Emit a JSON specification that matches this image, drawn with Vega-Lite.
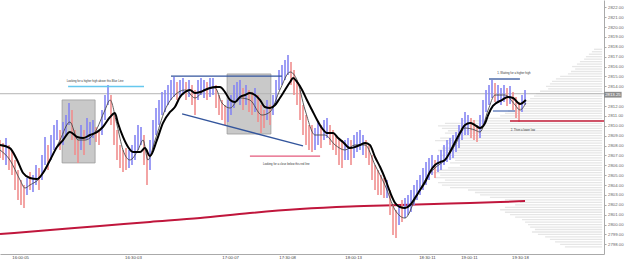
{
"$schema":"https://vega.github.io/schema/vega-lite/v6.json",
"width":604,"height":254,
"autosize":{"type":"none"},
"padding":{"left":0,"top":0,"right":21,"bottom":8},
"background":"#ffffff",
"config":{"view":{"stroke":null},"font":"Liberation Sans","axis":{"labelOverlap":false,"labelSeparation":0}},
"datasets":{
"bars":[
{"t":0,"h":2808.56,"l":2806.74,"c":"d"},{"t":1,"h":2808.26,"l":2806.54,"c":"d"},{"t":2,"h":2808.76,"l":2806.03,"c":"u"},{"t":3,"h":2808.06,"l":2805.52,"c":"d"},{"t":4,"h":2807.55,"l":2805.02,"c":"d"},{"t":5,"h":2806.54,"l":2803.50,"c":"d"},{"t":6,"h":2805.52,"l":2802.49,"c":"d"},{"t":7,"h":2804.51,"l":2801.98,"c":"d"},{"t":8,"h":2804.01,"l":2801.68,"c":"d"},{"t":9,"h":2804.71,"l":2802.99,"c":"u"},
{"t":10,"h":2805.32,"l":2803.50,"c":"d"},{"t":11,"h":2805.02,"l":2803.30,"c":"u"},{"t":12,"h":2806.03,"l":2804.01,"c":"u"},{"t":13,"h":2805.73,"l":2803.50,"c":"d"},{"t":14,"h":2807.04,"l":2804.51,"c":"u"},{"t":15,"h":2808.87,"l":2806.03,"c":"u"},{"t":16,"h":2808.06,"l":2805.52,"c":"d"},{"t":17,"h":2809.07,"l":2806.54,"c":"u"},{"t":18,"h":2810.08,"l":2807.55,"c":"u"},{"t":19,"h":2810.59,"l":2808.56,"c":"u"},
{"t":20,"h":2809.57,"l":2807.55,"c":"d"},{"t":21,"h":2810.39,"l":2808.06,"c":"u"},{"t":22,"h":2811.09,"l":2809.07,"c":"u"},{"t":23,"h":2812.31,"l":2810.08,"c":"u"},{"t":24,"h":2811.60,"l":2808.56,"c":"d"},{"t":25,"h":2809.57,"l":2807.04,"c":"d"},{"t":26,"h":2808.56,"l":2806.23,"c":"d"},{"t":27,"h":2810.08,"l":2807.55,"c":"u"},{"t":28,"h":2809.57,"l":2807.04,"c":"d"},{"t":29,"h":2810.79,"l":2808.56,"c":"u"},
{"t":30,"h":2810.39,"l":2808.06,"c":"u"},{"t":31,"h":2810.59,"l":2808.76,"c":"u"},{"t":32,"h":2809.88,"l":2808.36,"c":"d"},{"t":33,"h":2809.57,"l":2808.06,"c":"d"},{"t":34,"h":2811.60,"l":2809.07,"c":"u"},{"t":35,"h":2813.12,"l":2810.59,"c":"u"},{"t":36,"h":2814.13,"l":2812.11,"c":"u"},{"t":37,"h":2813.12,"l":2810.08,"c":"d"},{"t":38,"h":2811.09,"l":2808.06,"c":"d"},{"t":39,"h":2809.57,"l":2806.54,"c":"d"},
{"t":40,"h":2808.06,"l":2805.73,"c":"d"},{"t":41,"h":2807.55,"l":2805.32,"c":"d"},{"t":42,"h":2807.75,"l":2805.52,"c":"d"},{"t":43,"h":2807.55,"l":2805.73,"c":"u"},{"t":44,"h":2808.06,"l":2806.03,"c":"u"},{"t":45,"h":2809.07,"l":2806.54,"c":"u"},{"t":46,"h":2810.08,"l":2807.55,"c":"u"},{"t":47,"h":2809.88,"l":2808.06,"c":"u"},{"t":48,"h":2809.07,"l":2806.03,"c":"d"},{"t":49,"h":2807.55,"l":2804.01,"c":"d"},
{"t":50,"h":2808.56,"l":2805.52,"c":"u"},{"t":51,"h":2810.59,"l":2807.55,"c":"u"},{"t":52,"h":2811.80,"l":2809.07,"c":"u"},{"t":53,"h":2812.61,"l":2810.08,"c":"u"},{"t":54,"h":2813.42,"l":2811.09,"c":"u"},{"t":55,"h":2813.63,"l":2811.40,"c":"u"},{"t":56,"h":2814.13,"l":2812.11,"c":"u"},{"t":57,"h":2814.64,"l":2812.61,"c":"u"},{"t":58,"h":2814.94,"l":2812.92,"c":"u"},{"t":59,"h":2814.44,"l":2812.61,"c":"d"},
{"t":60,"h":2814.64,"l":2812.82,"c":"u"},{"t":61,"h":2814.84,"l":2813.12,"c":"u"},{"t":62,"h":2814.44,"l":2812.61,"c":"d"},{"t":63,"h":2814.64,"l":2812.92,"c":"u"},{"t":64,"h":2814.13,"l":2812.11,"c":"d"},{"t":65,"h":2813.63,"l":2811.09,"c":"d"},{"t":66,"h":2814.64,"l":2812.61,"c":"u"},{"t":67,"h":2814.84,"l":2813.12,"c":"u"},{"t":68,"h":2814.64,"l":2812.82,"c":"u"},{"t":69,"h":2814.44,"l":2812.61,"c":"d"},
{"t":70,"h":2814.84,"l":2812.92,"c":"u"},{"t":71,"h":2814.84,"l":2813.12,"c":"u"},{"t":72,"h":2814.13,"l":2811.80,"c":"d"},{"t":73,"h":2813.12,"l":2811.09,"c":"d"},{"t":74,"h":2812.61,"l":2810.59,"c":"d"},{"t":75,"h":2812.11,"l":2810.08,"c":"d"},{"t":76,"h":2812.61,"l":2810.39,"c":"u"},{"t":77,"h":2813.12,"l":2811.09,"c":"u"},{"t":78,"h":2814.13,"l":2811.80,"c":"u"},{"t":79,"h":2814.44,"l":2812.41,"c":"u"},
{"t":80,"h":2814.64,"l":2812.11,"c":"u"},{"t":81,"h":2813.83,"l":2811.60,"c":"d"},{"t":82,"h":2814.13,"l":2812.11,"c":"u"},{"t":83,"h":2813.63,"l":2811.40,"c":"d"},{"t":84,"h":2813.42,"l":2811.09,"c":"d"},{"t":85,"h":2813.83,"l":2811.40,"c":"u"},{"t":86,"h":2813.12,"l":2810.39,"c":"d"},{"t":87,"h":2812.11,"l":2809.27,"c":"d"},{"t":88,"h":2811.60,"l":2809.78,"c":"d"},{"t":89,"h":2812.61,"l":2810.59,"c":"u"},
{"t":90,"h":2812.11,"l":2810.08,"c":"d"},{"t":91,"h":2813.12,"l":2811.09,"c":"u"},{"t":92,"h":2814.64,"l":2812.11,"c":"u"},{"t":93,"h":2815.65,"l":2813.63,"c":"u"},{"t":94,"h":2816.16,"l":2814.13,"c":"u"},{"t":95,"h":2816.66,"l":2814.64,"c":"u"},{"t":96,"h":2817.17,"l":2815.14,"c":"u"},{"t":97,"h":2816.46,"l":2814.13,"c":"d"},{"t":98,"h":2815.65,"l":2813.12,"c":"d"},{"t":99,"h":2814.64,"l":2812.11,"c":"d"},
{"t":100,"h":2813.63,"l":2810.59,"c":"d"},{"t":101,"h":2812.11,"l":2809.07,"c":"d"},{"t":102,"h":2811.09,"l":2808.06,"c":"d"},{"t":103,"h":2810.08,"l":2807.55,"c":"d"},{"t":104,"h":2810.08,"l":2807.35,"c":"d"},{"t":105,"h":2809.78,"l":2807.55,"c":"u"},{"t":106,"h":2810.39,"l":2808.06,"c":"u"},{"t":107,"h":2810.08,"l":2807.75,"c":"d"},{"t":108,"h":2810.59,"l":2808.56,"c":"u"},{"t":109,"h":2810.79,"l":2808.76,"c":"u"},
{"t":110,"h":2810.08,"l":2808.06,"c":"d"},{"t":111,"h":2809.57,"l":2807.55,"c":"d"},{"t":112,"h":2809.07,"l":2807.04,"c":"d"},{"t":113,"h":2808.76,"l":2806.03,"c":"d"},{"t":114,"h":2808.56,"l":2805.73,"c":"d"},{"t":115,"h":2808.56,"l":2806.54,"c":"u"},{"t":116,"h":2808.76,"l":2806.54,"c":"u"},{"t":117,"h":2808.56,"l":2806.03,"c":"d"},{"t":118,"h":2809.07,"l":2806.74,"c":"u"},{"t":119,"h":2809.37,"l":2807.35,"c":"u"},
{"t":120,"h":2809.57,"l":2807.55,"c":"u"},{"t":121,"h":2809.07,"l":2807.04,"c":"u"},{"t":122,"h":2808.56,"l":2806.74,"c":"d"},{"t":123,"h":2808.06,"l":2806.03,"c":"d"},{"t":124,"h":2807.04,"l":2804.51,"c":"d"},{"t":125,"h":2806.03,"l":2803.50,"c":"d"},{"t":126,"h":2805.52,"l":2802.99,"c":"d"},{"t":127,"h":2805.02,"l":2802.99,"c":"d"},{"t":128,"h":2804.71,"l":2802.69,"c":"d"},{"t":129,"h":2804.51,"l":2802.69,"c":"u"},
{"t":130,"h":2803.50,"l":2800.97,"c":"d"},{"t":131,"h":2801.98,"l":2798.94,"c":"d"},{"t":132,"h":2801.47,"l":2798.64,"c":"d"},{"t":133,"h":2801.98,"l":2799.95,"c":"u"},{"t":134,"h":2802.49,"l":2800.26,"c":"d"},{"t":135,"h":2802.69,"l":2800.66,"c":"u"},{"t":136,"h":2802.99,"l":2800.97,"c":"u"},{"t":137,"h":2803.50,"l":2801.27,"c":"u"},{"t":138,"h":2804.01,"l":2801.98,"c":"u"},{"t":139,"h":2804.51,"l":2802.49,"c":"u"},
{"t":140,"h":2805.02,"l":2802.99,"c":"u"},{"t":141,"h":2805.73,"l":2803.50,"c":"u"},{"t":142,"h":2806.33,"l":2804.01,"c":"u"},{"t":143,"h":2806.74,"l":2804.51,"c":"u"},{"t":144,"h":2807.04,"l":2805.02,"c":"u"},{"t":145,"h":2806.54,"l":2804.71,"c":"d"},{"t":146,"h":2807.04,"l":2805.32,"c":"u"},{"t":147,"h":2807.55,"l":2805.52,"c":"u"},{"t":148,"h":2808.06,"l":2806.03,"c":"u"},{"t":149,"h":2808.56,"l":2806.33,"c":"u"},
{"t":150,"h":2808.76,"l":2806.54,"c":"u"},{"t":151,"h":2809.07,"l":2806.74,"c":"u"},{"t":152,"h":2809.37,"l":2807.35,"c":"u"},{"t":153,"h":2810.08,"l":2807.75,"c":"u"},{"t":154,"h":2810.79,"l":2808.56,"c":"u"},{"t":155,"h":2811.40,"l":2809.07,"c":"u"},{"t":156,"h":2811.09,"l":2809.07,"c":"u"},{"t":157,"h":2810.79,"l":2808.76,"c":"d"},{"t":158,"h":2810.59,"l":2808.56,"c":"d"},{"t":159,"h":2810.08,"l":2808.36,"c":"d"},
{"t":160,"h":2811.09,"l":2808.76,"c":"u"},{"t":161,"h":2812.61,"l":2810.08,"c":"u"},{"t":162,"h":2813.63,"l":2811.40,"c":"u"},{"t":163,"h":2814.13,"l":2812.11,"c":"u"},{"t":164,"h":2814.64,"l":2812.82,"c":"u"},{"t":165,"h":2814.33,"l":2812.41,"c":"d"},{"t":166,"h":2814.13,"l":2812.31,"c":"u"},{"t":167,"h":2813.83,"l":2812.11,"c":"u"},{"t":168,"h":2814.13,"l":2812.41,"c":"u"},{"t":169,"h":2813.83,"l":2812.01,"c":"d"},
{"t":170,"h":2814.03,"l":2812.21,"c":"u"},{"t":171,"h":2813.42,"l":2811.60,"c":"d"},{"t":172,"h":2812.92,"l":2810.79,"c":"d"},{"t":173,"h":2812.41,"l":2810.39,"c":"d"},{"t":174,"h":2813.12,"l":2811.40,"c":"u"},{"t":175,"h":2813.63,"l":2812.11,"c":"u"}
],
"ma":[
{"t":0,"v":2808.06,"s":"slow"},{"t":3.3,"v":2807.75,"s":"slow"},{"t":5.7,"v":2806.54,"s":"slow"},{"t":7.7,"v":2805.22,"s":"slow"},{"t":10,"v":2804.71,"s":"slow"},{"t":12.3,"v":2804.61,"s":"slow"},{"t":14.3,"v":2805.22,"s":"slow"},{"t":16.7,"v":2806.54,"s":"slow"},{"t":19,"v":2807.85,"s":"slow"},{"t":21,"v":2808.56,"s":"slow"},{"t":23.3,"v":2809.37,"s":"slow"},{"t":25.7,"v":2808.87,"s":"slow"},{"t":27.7,"v":2808.76,"s":"slow"},{"t":30,"v":2809.07,"s":"slow"},{"t":32.3,"v":2809.37,"s":"slow"},{"t":34.3,"v":2809.88,"s":"slow"},{"t":36.7,"v":2810.89,"s":"slow"},{"t":38.3,"v":2811.30,"s":"slow"},{"t":39.3,"v":2810.28,"s":"slow"},{"t":41,"v":2808.87,"s":"slow"},{"t":42.7,"v":2807.85,"s":"slow"},{"t":44.3,"v":2807.35,"s":"slow"},{"t":46.7,"v":2807.35,"s":"slow"},{"t":48.3,"v":2807.75,"s":"slow"},{"t":50,"v":2806.94,"s":"slow"},{"t":52.3,"v":2808.56,"s":"slow"},{"t":54.3,"v":2810.28,"s":"slow"},{"t":56.7,"v":2811.40,"s":"slow"},{"t":58.3,"v":2811.90,"s":"slow"},{"t":60,"v":2812.92,"s":"slow"},{"t":61.7,"v":2813.42,"s":"slow"},{"t":63.3,"v":2813.63,"s":"slow"},{"t":65,"v":2813.32,"s":"slow"},{"t":66.7,"v":2813.42,"s":"slow"},{"t":68.3,"v":2813.63,"s":"slow"},{"t":70,"v":2813.83,"s":"slow"},{"t":71.7,"v":2813.93,"s":"slow"},{"t":73.3,"v":2813.93,"s":"slow"},{"t":75,"v":2813.42,"s":"slow"},{"t":76.7,"v":2812.61,"s":"slow"},{"t":78.3,"v":2812.41,"s":"slow"},{"t":80,"v":2812.92,"s":"slow"},{"t":81.7,"v":2813.12,"s":"slow"},{"t":83.3,"v":2813.32,"s":"slow"},{"t":85,"v":2813.12,"s":"slow"},{"t":86.7,"v":2812.61,"s":"slow"},{"t":88.3,"v":2811.90,"s":"slow"},{"t":90,"v":2811.80,"s":"slow"},{"t":91.7,"v":2812.11,"s":"slow"},{"t":93.3,"v":2812.82,"s":"slow"},{"t":95,"v":2813.63,"s":"slow"},{"t":96.7,"v":2814.44,"s":"slow"},{"t":97.7,"v":2814.84,"s":"slow"},{"t":99,"v":2814.44,"s":"slow"},{"t":100.7,"v":2813.63,"s":"slow"},{"t":102.3,"v":2812.61,"s":"slow"},{"t":104,"v":2811.60,"s":"slow"},{"t":105.7,"v":2810.59,"s":"slow"},{"t":107.3,"v":2809.78,"s":"slow"},{"t":109,"v":2809.27,"s":"slow"},{"t":111,"v":2809.27,"s":"slow"},{"t":112.7,"v":2808.76,"s":"slow"},{"t":114.3,"v":2808.36,"s":"slow"},{"t":116.7,"v":2807.75,"s":"slow"},{"t":118.3,"v":2807.85,"s":"slow"},{"t":120,"v":2808.06,"s":"slow"},{"t":121.7,"v":2808.26,"s":"slow"},{"t":123.3,"v":2808.06,"s":"slow"},{"t":125,"v":2806.84,"s":"slow"},{"t":126.7,"v":2805.83,"s":"slow"},{"t":128.3,"v":2804.71,"s":"slow"},{"t":130,"v":2803.30,"s":"slow"},{"t":131.7,"v":2802.18,"s":"slow"},{"t":133.3,"v":2801.78,"s":"slow"},{"t":135,"v":2801.68,"s":"slow"},{"t":136.7,"v":2801.98,"s":"slow"},{"t":138.3,"v":2802.69,"s":"slow"},{"t":140,"v":2803.50,"s":"slow"},{"t":141.7,"v":2804.31,"s":"slow"},{"t":143.3,"v":2805.32,"s":"slow"},{"t":145,"v":2806.03,"s":"slow"},{"t":146.7,"v":2806.33,"s":"slow"},{"t":148.3,"v":2806.54,"s":"slow"},{"t":150,"v":2807.35,"s":"slow"},{"t":151.7,"v":2808.36,"s":"slow"},{"t":153.3,"v":2809.27,"s":"slow"},{"t":155,"v":2810.08,"s":"slow"},{"t":156.7,"v":2810.28,"s":"slow"},{"t":158.3,"v":2810.08,"s":"slow"},{"t":160,"v":2809.78,"s":"slow"},{"t":161.7,"v":2810.28,"s":"slow"},{"t":162.7,"v":2811.09,"s":"slow"},{"t":164.3,"v":2812.01,"s":"slow"},{"t":167.3,"v":2812.61,"s":"slow"},{"t":169.3,"v":2812.92,"s":"slow"},{"t":171,"v":2812.82,"s":"slow"},{"t":173.3,"v":2812.21,"s":"slow"},{"t":175.3,"v":2812.61,"s":"slow"},
{"t":0,"v":2807.55,"s":"fast"},{"t":3.3,"v":2806.54,"s":"fast"},{"t":6.7,"v":2804.51,"s":"fast"},{"t":8.3,"v":2803.70,"s":"fast"},{"t":10,"v":2804.01,"s":"fast"},{"t":13.3,"v":2804.71,"s":"fast"},{"t":16.7,"v":2806.54,"s":"fast"},{"t":20,"v":2808.56,"s":"fast"},{"t":23.3,"v":2810.39,"s":"fast"},{"t":26,"v":2808.56,"s":"fast"},{"t":28.3,"v":2808.56,"s":"fast"},{"t":31.7,"v":2809.37,"s":"fast"},{"t":35,"v":2811.60,"s":"fast"},{"t":36.7,"v":2812.61,"s":"fast"},{"t":39,"v":2810.08,"s":"fast"},{"t":41,"v":2807.55,"s":"fast"},{"t":43.3,"v":2806.54,"s":"fast"},{"t":46,"v":2807.55,"s":"fast"},{"t":47.7,"v":2808.56,"s":"fast"},{"t":49.3,"v":2806.54,"s":"fast"},{"t":51.7,"v":2808.56,"s":"fast"},{"t":55,"v":2811.60,"s":"fast"},{"t":58.3,"v":2813.12,"s":"fast"},{"t":61.7,"v":2813.63,"s":"fast"},{"t":65,"v":2812.82,"s":"fast"},{"t":68.3,"v":2813.63,"s":"fast"},{"t":71.7,"v":2813.83,"s":"fast"},{"t":74,"v":2812.31,"s":"fast"},{"t":76.7,"v":2811.80,"s":"fast"},{"t":80,"v":2812.82,"s":"fast"},{"t":83.3,"v":2812.61,"s":"fast"},{"t":87.3,"v":2811.09,"s":"fast"},{"t":90,"v":2811.40,"s":"fast"},{"t":93.3,"v":2813.63,"s":"fast"},{"t":96.7,"v":2815.45,"s":"fast"},{"t":99,"v":2814.64,"s":"fast"},{"t":101.7,"v":2811.60,"s":"fast"},{"t":105,"v":2809.07,"s":"fast"},{"t":108.3,"v":2809.07,"s":"fast"},{"t":111.7,"v":2808.06,"s":"fast"},{"t":115,"v":2807.55,"s":"fast"},{"t":118.3,"v":2808.06,"s":"fast"},{"t":121.7,"v":2808.06,"s":"fast"},{"t":125,"v":2806.03,"s":"fast"},{"t":128.3,"v":2804.01,"s":"fast"},{"t":131.7,"v":2801.47,"s":"fast"},{"t":135,"v":2800.66,"s":"fast"},{"t":138.3,"v":2802.49,"s":"fast"},{"t":141.7,"v":2804.51,"s":"fast"},{"t":145,"v":2805.73,"s":"fast"},{"t":148.3,"v":2806.54,"s":"fast"},{"t":151.7,"v":2808.06,"s":"fast"},{"t":155,"v":2809.78,"s":"fast"},{"t":158.3,"v":2809.57,"s":"fast"},{"t":160,"v":2809.37,"s":"fast"},{"t":162.7,"v":2811.60,"s":"fast"},{"t":165,"v":2813.12,"s":"fast"},{"t":168.3,"v":2813.12,"s":"fast"},{"t":171.7,"v":2812.11,"s":"fast"},{"t":173.3,"v":2811.60,"s":"fast"},{"t":175.3,"v":2812.31,"s":"fast"},
{"t":0,"v":2799.04,"s":"long"},{"t":16.7,"v":2799.45,"s":"long"},{"t":33.3,"v":2799.85,"s":"long"},{"t":50,"v":2800.26,"s":"long"},{"t":66.7,"v":2800.66,"s":"long"},{"t":83.3,"v":2801.17,"s":"long"},{"t":100,"v":2801.57,"s":"long"},{"t":116.7,"v":2801.83,"s":"long"},{"t":133.3,"v":2801.98,"s":"long"},{"t":150,"v":2802.13,"s":"long"},{"t":166.7,"v":2802.28,"s":"long"},{"t":175,"v":2802.38,"s":"long"}
],
"vp":[
{"p":2817.75,"s":198},{"p":2817.5,"s":197.3},{"p":2817.25,"s":196.3},{"p":2817,"s":195.3},{"p":2816.75,"s":194.7},{"p":2816.5,"s":193.3},{"p":2816.25,"s":192.3},{"p":2816,"s":190.7},{"p":2815.75,"s":191.7},{"p":2815.5,"s":190.3},{"p":2815.25,"s":189.3},{"p":2815,"s":186.7},{"p":2814.75,"s":185.3},{"p":2814.5,"s":184},{"p":2814.25,"s":183.3},{"p":2814,"s":182},{"p":2813.75,"s":182.7},{"p":2813.5,"s":180},{"p":2813.25,"s":178.7},{"p":2813,"s":178},{"p":2812.75,"s":176.7},{"p":2812.5,"s":174.7},{"p":2812.25,"s":173.3},{"p":2812,"s":174},{"p":2811.75,"s":171.7},{"p":2811.5,"s":169.3},{"p":2811.25,"s":168.3},{"p":2811,"s":166.7},{"p":2810.75,"s":161.7},{"p":2810.5,"s":154},{"p":2810.25,"s":148.3},{"p":2810,"s":146},{"p":2809.75,"s":147.3},{"p":2809.5,"s":149.3},{"p":2809.25,"s":148.3},{"p":2809,"s":150.7},{"p":2808.75,"s":146.7},{"p":2808.5,"s":145},{"p":2808.25,"s":149},{"p":2808,"s":150},{"p":2807.75,"s":147.3},{"p":2807.5,"s":146},{"p":2807.25,"s":148.3},{"p":2807,"s":146.7},{"p":2806.75,"s":149.3},{"p":2806.5,"s":151.7},{"p":2806.25,"s":150},{"p":2806,"s":153.3},{"p":2805.75,"s":149.3},{"p":2805.5,"s":145.3},{"p":2805.25,"s":144},{"p":2805,"s":146.7},{"p":2804.75,"s":145},{"p":2804.5,"s":148.3},{"p":2804.25,"s":146},{"p":2804,"s":147.3},{"p":2803.75,"s":150},{"p":2803.5,"s":156},{"p":2803.25,"s":158.3},{"p":2803,"s":160},{"p":2802.75,"s":163.3},{"p":2802.5,"s":168.3},{"p":2802.25,"s":173.3},{"p":2802,"s":171.7},{"p":2801.75,"s":168.3},{"p":2801.5,"s":166.7},{"p":2801.25,"s":168.3},{"p":2801,"s":170},{"p":2800.75,"s":171.7},{"p":2800.5,"s":174},{"p":2800.25,"s":175},{"p":2800,"s":176},{"p":2799.75,"s":176.7},{"p":2799.5,"s":178.3},{"p":2799.25,"s":177.3},{"p":2799,"s":179.3},{"p":2798.75,"s":181.7},{"p":2798.5,"s":183.3},{"p":2798.25,"s":185},{"p":2798,"s":186.7},{"p":2797.75,"s":188.3}
],
"boxes":[
{"t1":20.7,"t2":31.7,"p1":2812.62,"p2":2806.24},
{"t1":75.7,"t2":90.3,"p1":2815.25,"p2":2809.17}
],
"segs":[
{"t1":22.7,"t2":48,"p1":2813.98,"p2":2813.98,"k":"note"},
{"t1":57,"t2":94,"p1":2815.04,"p2":2815.04,"k":"resistance"},
{"t1":60.7,"t2":101,"p1":2811.2,"p2":2807.96,"k":"resistance"},
{"t1":83.3,"t2":106.7,"p1":2806.94,"p2":2806.94,"k":"trigger"},
{"t1":163,"t2":173.3,"p1":2814.74,"p2":2814.74,"k":"resistance"},
{"t1":164.3,"t2":171.7,"p1":2811.5,"p2":2811.5,"k":"range"},
{"t1":170,"t2":201.33,"p1":2810.49,"p2":2810.49,"k":"stop"}
],
"notes":[
{"t":31.7,"p":2814.54,"txt":"Looking for a higher high above this Blue Line"},
{"t":95.4,"p":2806.23,"txt":"Looking for a close below this red line"},
{"t":171.3,"p":2815.35,"txt":"1. Waiting for a higher high"},
{"t":174.3,"p":2809.63,"txt":"2. Then a lower low"}
]
},
"layer":[
{"data":{"name":"vp"},"mark":{"type":"rule","color":"#e6e6e6","strokeWidth":1.3},
 "encoding":{
  "x":{"field":"s","type":"quantitative","title":null,"scale":{"domain":[0,201.33],"nice":false,"zero":false},
   "axis":{"orient":"bottom","values":[6.7,44.3,76.7,95.7,117.7,142.3,156.3,173.3],"labelExpr":"datum.value==6.7?'16:00:05':datum.value==44.3?'16:30:03':datum.value==76.7?'17:00:07':datum.value==95.7?'17:30:08':datum.value==117.7?'18:00:13':datum.value==142.3?'18:30:11':datum.value==156.3?'19:00:11':'19:30:18'","title":null,"ticks":false,"grid":false,"domainColor":"#aaaaaa","domainWidth":1,"labelFontSize":4.3,"labelColor":"#444444","labelPadding":1.5,"labelFlush":false,"labelOverlap":false}},
  "x2":{"datum":200.7},
  "y":{"field":"p","type":"quantitative","title":null,"scale":{"domain":[2797.02,2822.74],"nice":false,"zero":false},
   "axis":{"orient":"right","values":[2798,2799,2800,2801,2802,2803,2804,2805,2806,2807,2808,2809,2810,2811,2812,2814,2815,2816,2817,2818,2819,2820,2821,2822],"tickCount":26,"format":".2f","title":null,"grid":false,"ticks":true,"tickSize":2,"tickColor":"#aaaaaa","domainColor":"#aaaaaa","domainWidth":1,"labelFontSize":4.3,"labelColor":"#666666","labelPadding":1.5,"labelOverlap":false,"labelSeparation":0,"labelFlush":false}}
 }},
{"data":{"name":"boxes"},"mark":{"type":"rect","fill":"#c9c9c9","stroke":"#9a9a9a","strokeWidth":0.8},
 "encoding":{"x":{"field":"t1","type":"quantitative","title":null},"x2":{"field":"t2"},"y":{"field":"p1","type":"quantitative","title":null},"y2":{"field":"p2"}}},
{"data":{"values":[{"p":2813.25}]},"mark":{"type":"rule","color":"#b4b4b4","strokeWidth":1},
 "encoding":{"y":{"field":"p","type":"quantitative","title":null}}},
{"data":{"name":"ma"},"transform":[{"filter":"datum.s=='long'"}],"mark":{"type":"line","color":"#c0163c","strokeWidth":2,"interpolate":"monotone"},
 "encoding":{"x":{"field":"t","type":"quantitative","title":null},"y":{"field":"v","type":"quantitative","title":null}}},
{"data":{"name":"bars"},"mark":{"type":"rule","strokeWidth":1.6},
 "encoding":{"x":{"field":"t","type":"quantitative","title":null},"y":{"field":"h","type":"quantitative","title":null},"y2":{"field":"l"},
  "color":{"field":"c","type":"nominal","scale":{"domain":["u","d"],"range":["#8585f3","#f08e8e"]},"legend":null}}},
{"data":{"name":"ma"},"transform":[{"filter":"datum.s=='fast'"}],"mark":{"type":"line","color":"#4a4a4a","strokeWidth":0.9,"interpolate":"monotone"},
 "encoding":{"x":{"field":"t","type":"quantitative","title":null},"y":{"field":"v","type":"quantitative","title":null}}},
{"data":{"name":"ma"},"transform":[{"filter":"datum.s=='slow'"}],"mark":{"type":"line","color":"#000000","strokeWidth":2,"interpolate":"monotone"},
 "encoding":{"x":{"field":"t","type":"quantitative","title":null},"y":{"field":"v","type":"quantitative","title":null}}},
{"data":{"name":"segs"},"mark":{"type":"rule","strokeWidth":1.3},
 "encoding":{"x":{"field":"t1","type":"quantitative","title":null},"x2":{"field":"t2"},"y":{"field":"p1","type":"quantitative","title":null},"y2":{"field":"p2"},
  "stroke":{"field":"k","type":"nominal","scale":{"domain":["note","resistance","range","trigger","stop"],"range":["#66c8ee","#33559c","#5876b8","#e45a7c","#c41e3a"]},"legend":null}}},
{"data":{"name":"notes"},"mark":{"type":"text","fontSize":2.8,"color":"#333333","align":"center","baseline":"middle"},
 "encoding":{"x":{"field":"t","type":"quantitative","title":null},"y":{"field":"p","type":"quantitative","title":null},"text":{"field":"txt"}}},
{"data":{"values":[{"lab":"2813.25"}]},"mark":{"type":"rect","fill":"#8c8c8c"},
 "encoding":{"x":{"datum":201.33,"type":"quantitative","title":null},"x2":{"datum":207.2},"y":{"datum":2813.44,"type":"quantitative","title":null},"y2":{"datum":2812.86}}},
{"data":{"values":[{"lab":"2813.25"}]},"mark":{"type":"text","fontSize":4.3,"color":"#ffffff","align":"center","baseline":"middle"},
 "encoding":{"x":{"datum":204.3,"type":"quantitative","title":null},"y":{"datum":2813.15,"type":"quantitative","title":null},"text":{"field":"lab"}}}
]
}
